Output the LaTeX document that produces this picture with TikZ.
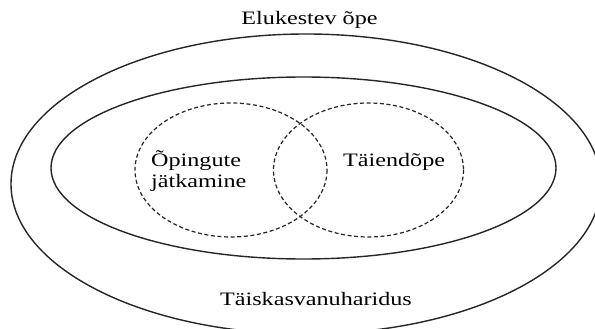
\documentclass[tikz,border=0pt]{standalone}
\usepackage{fontspec}
\setmainfont{Liberation Serif}
\newcommand{\wide}[1]{\scalebox{1.27}[1]{#1}}
\begin{document}
\begin{tikzpicture}[x=1pt,y=-1pt,
  solidring/.style={draw=black!85,line width=1.4pt},
  dashring/.style={draw=black!85,line width=1.2pt,dash pattern=on 4pt off 2.6pt},
  lbl/.style={font=\fontsize{19}{21}\selectfont,inner sep=0pt,anchor=base}]
\useasboundingbox (0,0) rectangle (595,329);
\clip (0,0) rectangle (595,329);
\fill[white] (0,0) rectangle (595,329);
\draw[solidring] (306,184) ellipse [x radius=295, y radius=150];
\draw[solidring] (303.5,168) ellipse [x radius=252.5, y radius=91];
\draw[dashring] (231,170) ellipse [x radius=96, y radius=67];
\draw[dashring] (368.5,170) ellipse [x radius=95, y radius=67];
\node[lbl] (title) at (309.5,25) {\wide{Elukestev õpe}};
\node[lbl] (bottom) at (316,305) {\wide{Täiskasvanuharidus}};
\node[lbl,anchor=base west] (op1) at (151,166) {\wide{Õpingute}};
\node[lbl,anchor=base west] (op2) at (151,187) {\wide{jätkamine}};
\node[lbl,anchor=base west] (te) at (343,166) {\wide{Täiendõpe}};
\end{tikzpicture}
\end{document}
